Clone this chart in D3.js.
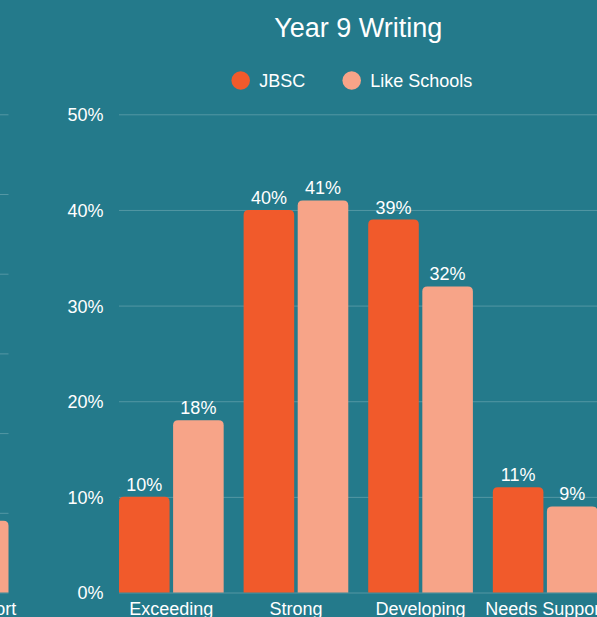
<!DOCTYPE html>
<html>
<head>
<meta charset="utf-8">
<script src="https://cdn.jsdelivr.net/npm/d3@7"></script>
<style>
	html, body { margin: 0; padding: 0; background: #247a8b; overflow: hidden; }
	svg { display: block; font-family: 'Liberation Sans', Arial, Helvetica, sans-serif; }
	.grid line { stroke: rgba(255,255,255,0.22); stroke-width: 1; }
	.grid path, .ylabels path, .xlabels path { display: none; }
	.ylabels text, .xlabels text { fill: #fff; font-size: 18px; }
	.val-label { fill: #fff; font-size: 18px; text-anchor: middle; }
	.title { fill: #fff; font-size: 27px; text-anchor: middle; }
	.legend text { fill: #fff; font-size: 18px; }
</style>
</head>
<body>
<div id="chart"></div>
<script>
var W = 597
var H = 617

var categories = ['Exceeding', 'Strong', 'Developing', 'Needs Support']
var seriesNames = ['JBSC', 'Like Schools']
var jbscValues = [10, 40, 39, 11]
var likeSchoolsValues = [18, 41, 32, 9]
var yTicks = [0, 10, 20, 30, 40, 50]

// previous chart, only its last bar peeks in on the left
var prevYTicks = [0, 10, 20, 30, 40, 50, 60]
var prevLikeSchoolsValues = [null, null, null, 9]

var colors = { 'JBSC': '#f15a2b', 'Like Schools': '#f7a488' }

var margin = { top: 114.3, bottom: 24.5, left: 119, right: -0.5 }
var plotBottom = H - margin.bottom

var rows = categories.map(function(c, i) {
	return { cat: c, values: [
		{ series: 'JBSC', value: jbscValues[i] },
		{ series: 'Like Schools', value: likeSchoolsValues[i] }
	] }
})

var svg = d3.select('#chart').append('svg')
	.attr('width', W)
	.attr('height', H)

// top rounded bar
var barPath = function(x, y, w, h, r) {
	r = Math.min(r, h, w / 2)
	return 'M' + x + ',' + (y + h) +
		'V' + (y + r) +
		'Q' + x + ',' + y + ' ' + (x + r) + ',' + y +
		'H' + (x + w - r) +
		'Q' + (x + w) + ',' + y + ' ' + (x + w) + ',' + (y + r) +
		'V' + (y + h) + 'Z'
}

var drawPanel = function(opts) {

	var x0 = d3.scaleBand()
		.domain(categories)
		.range(opts.xRange)
		.paddingInner(0.16)
		.paddingOuter(0)

	var x1 = d3.scaleBand()
		.domain(seriesNames)
		.range([0, x0.bandwidth()])
		.paddingInner(0.065)

	var y = d3.scaleLinear()
		.domain([0, d3.max(opts.ticks)])
		.range([plotBottom, margin.top])

	var g = svg.append('g')

	g.append('g')
		.attr('class', 'grid')
		.attr('transform', 'translate(' + opts.xRange[0] + ',0)')
		.call(d3.axisLeft(y)
			.tickValues(opts.ticks)
			.tickSize(-(opts.xRange[1] - opts.xRange[0]))
			.tickFormat(''))

	if (opts.showYLabels) {
		g.append('g')
			.attr('class', 'ylabels')
			.attr('transform', 'translate(' + (opts.xRange[0] - 15.5) + ',0)')
			.call(d3.axisLeft(y)
				.tickValues(opts.ticks)
				.tickSize(0)
				.tickPadding(0)
				.tickFormat(function(d) { return d + '%' }))
			.selectAll('text').attr('dy', '0.36em')
	}

	// only labels that can show up in the window
	var xTicks = categories.filter(function(c) {
		return x0(c) + x0.bandwidth() > 0
	})

	g.append('g')
		.attr('class', 'xlabels')
		.attr('transform', 'translate(0,' + plotBottom + ')')
		.call(d3.axisBottom(x0).tickValues(xTicks).tickSize(0).tickPadding(9.5))

	var groups = g.selectAll('.group')
		.data(opts.rows)
		.enter().append('g')
		.attr('class', 'group')
		.attr('transform', function(d) { return 'translate(' + x0(d.cat) + ',0)' })

	var bars = groups.selectAll('.bar')
		.data(function(d) { return d.values.filter(function(v) { return v.value != null }) })
		.enter()

	bars.append('path')
		.attr('class', 'bar')
		.attr('fill', function(d) { return colors[d.series] })
		.attr('d', function(d) {
			return barPath(x1(d.series), y(d.value), x1.bandwidth(), plotBottom - y(d.value), 5)
		})

	if (opts.showValues) {
		bars.append('text')
			.attr('class', 'val-label')
			.attr('x', function(d) { return x1(d.series) + x1.bandwidth() / 2 })
			.attr('y', function(d) { return y(d.value) - 6 })
			.text(function(d) { return d.value + '%' })
	}

	return { x0: x0 }
}

// left neighbour chart (cropped)
drawPanel({
	xRange: [8.5 - (W - margin.right - margin.left), 8.5],
	ticks: prevYTicks,
	rows: categories.map(function(c, i) {
		return { cat: c, values: [{ series: 'Like Schools', value: prevLikeSchoolsValues[i] }] }
	}),
	showYLabels: false,
	showValues: false
})

var main = drawPanel({
	xRange: [margin.left, W - margin.right],
	ticks: yTicks,
	rows: rows,
	showYLabels: true,
	showValues: true
})

var centerX = (margin.left + W - margin.right) / 2

svg.append('text')
	.attr('class', 'title')
	.attr('x', centerX)
	.attr('y', 37)
	.text('Year 9 Writing')

var legendPos = [240.7, 351.7]
var legend = svg.append('g')
	.attr('class', 'legend')
	.selectAll('g')
	.data(seriesNames)
	.enter().append('g')
	.attr('transform', function(d, i) { return 'translate(' + legendPos[i] + ',80.5)' })

legend.append('circle')
	.attr('r', 9.3)
	.attr('fill', function(d) { return colors[d] })

legend.append('text')
	.attr('x', 18.5)
	.attr('y', 6.8)
	.text(function(d) { return d })
</script>
</body>
</html>
